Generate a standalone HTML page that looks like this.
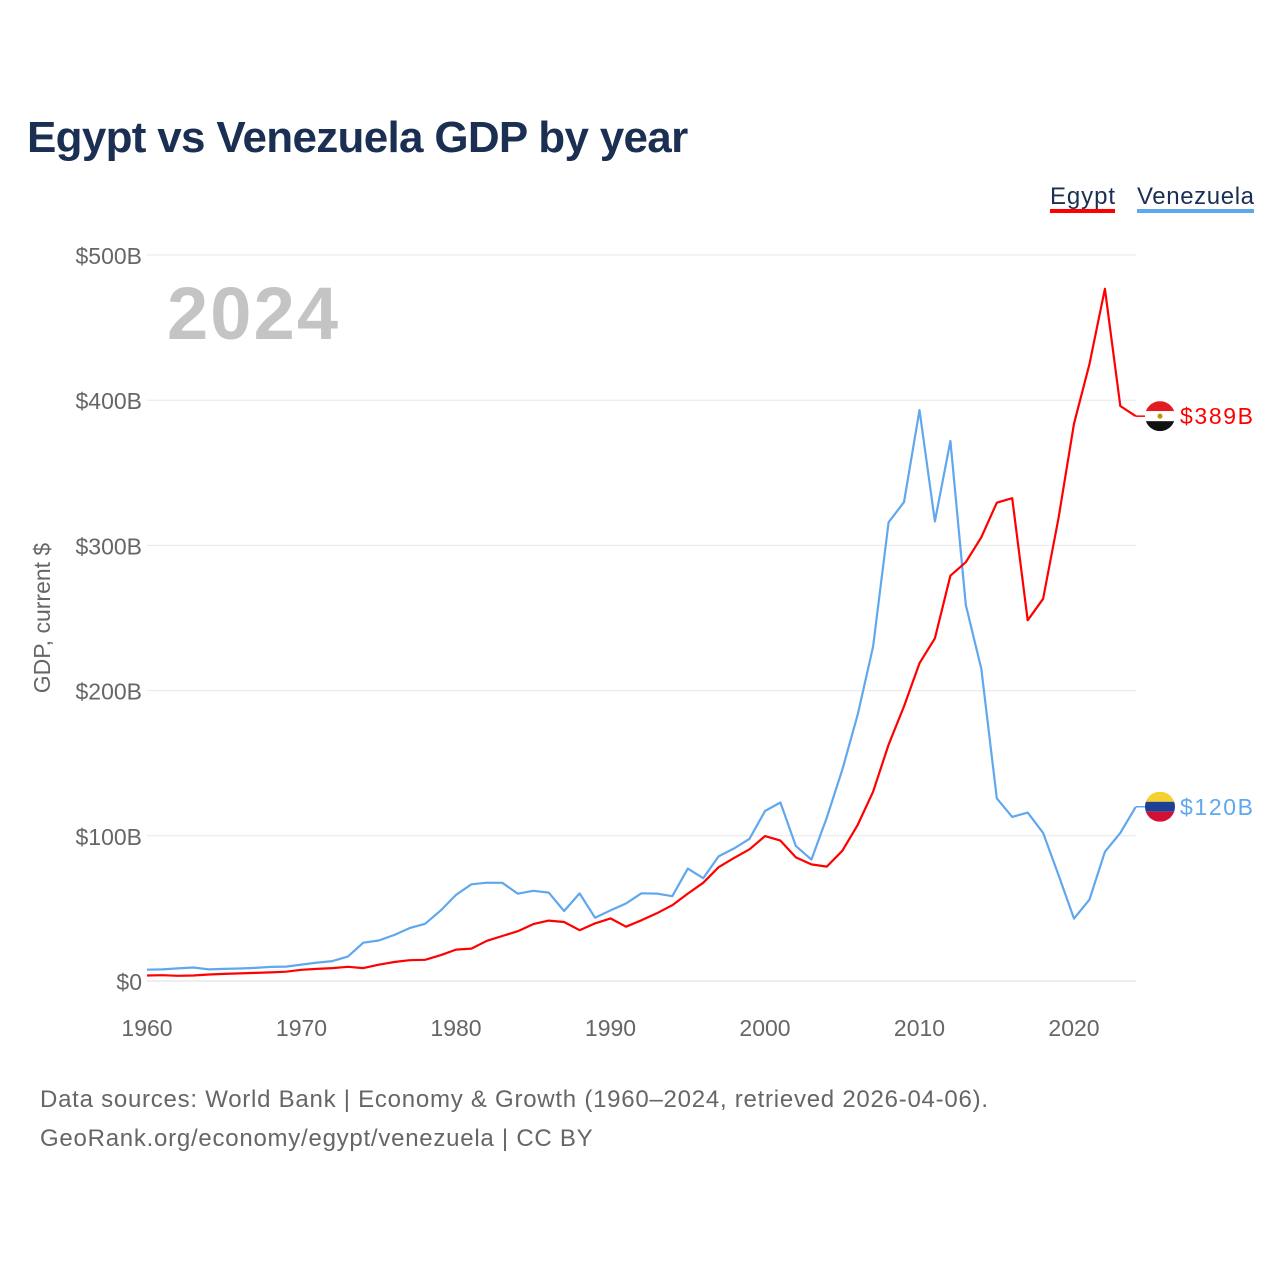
<!DOCTYPE html>
<html><head><meta charset="utf-8">
<style>
html,body{margin:0;padding:0;background:#fff;}
body{width:1280px;height:1280px;position:relative;overflow:hidden;font-family:"Liberation Sans",sans-serif;}
#title{position:absolute;left:27px;top:113px;font-size:44px;font-weight:bold;color:#1b2f52;margin:0;letter-spacing:-0.7px;}
.src{position:absolute;left:40px;font-size:24px;color:#666;letter-spacing:0.75px;}
</style></head><body>
<h1 id="title">Egypt vs Venezuela GDP by year</h1>
<svg id="chart" width="1280" height="1280" style="position:absolute;left:0;top:0" xmlns="http://www.w3.org/2000/svg"></svg>
<div class="src" style="top:1086px">Data sources: World Bank | Economy &amp; Growth (1960–2024, retrieved 2026-04-06).</div>
<div class="src" style="top:1125px">GeoRank.org/economy/egypt/venezuela | CC BY</div>
<script>
const years = [];
for (let y = 1960; y <= 2024; y++) years.push(y);
const egypt = [3.8,4.0,3.6,3.8,4.5,4.9,5.2,5.6,5.9,6.4,7.7,8.3,8.9,9.8,8.9,11.2,13.1,14.3,14.6,17.8,21.6,22.3,27.7,31.0,34.3,39.2,41.6,40.6,35.0,39.7,43.1,37.4,41.8,46.6,52.2,60.2,67.6,78.4,84.8,90.7,99.8,96.7,85.1,80.3,78.8,89.7,107.5,130.4,162.8,189.1,218.9,236.0,279.1,288.4,305.6,329.4,332.5,248.4,263.2,318.7,383.8,424.7,476.7,396.0,389.0];
const venezuela = [7.8,8.0,8.7,9.3,8.0,8.3,8.6,9.0,9.7,9.9,11.3,12.7,13.7,16.8,26.4,27.9,31.7,36.4,39.4,48.5,59.3,66.6,67.7,67.6,60.1,62.1,60.9,48.2,60.3,43.6,48.6,53.4,60.4,60.2,58.4,77.4,70.8,85.8,91.3,97.9,117.1,122.9,92.9,83.6,112.5,145.5,183.5,230.4,315.9,329.8,393.2,316.5,372.0,259.0,215.0,125.8,113.0,116.0,102.0,73.0,43.0,56.0,89.0,102.0,120.0];
const yTicks = [0,100,200,300,400,500];
const yTickLabels = ["$0","$100B","$200B","$300B","$400B","$500B"];
const xTicks = [1960,1970,1980,1990,2000,2010,2020];

const NS = "http://www.w3.org/2000/svg";
const svg = document.getElementById('chart');
const X = y => 147 + (y - 1960) * (927 / 60);
const Y = v => 981 - v * 1.452;
function mk(tag, attrs, parent) {
  const e = document.createElementNS(NS, tag);
  for (const k in attrs) e.setAttribute(k, attrs[k]);
  (parent || svg).appendChild(e);
  return e;
}
yTicks.forEach((t, i) => {
  const g = mk('line', {x1: 147, x2: 1136, y1: Y(t), y2: Y(t), stroke: t === 0 ? '#ddd' : '#e8e8e8', 'stroke-width': 1});
  
  
  const tx = mk('text', {x: 142, y: Y(t) + 9, 'text-anchor': 'end', 'font-size': 23, fill: '#666', 'font-family': 'Liberation Sans, sans-serif'});
  tx.textContent = yTickLabels[i];
  
  
});
xTicks.forEach(t => {
  const tx = mk('text', {x: X(t), y: 1036, 'text-anchor': 'middle', 'font-size': 23, fill: '#666', 'font-family': 'Liberation Sans, sans-serif'});
  tx.textContent = t;
  
  
});
const yt = mk('text', {x: 0, y: 0, transform: 'translate(50,618) rotate(-90)', 'text-anchor': 'middle', 'font-size': 23, fill: '#666', 'font-family': 'Liberation Sans, sans-serif'});
yt.textContent = 'GDP, current $';


const yr = mk('text', {x: 167, y: 339, 'font-size': 74, 'font-weight': 'bold', fill: '#c4c4c4', 'font-family': 'Liberation Sans, sans-serif', textLength: 171});
yr.textContent = '2024';



function line(vals, color, name) {
  const d = vals.map((v, i) => (i ? 'L' : 'M') + X(years[i]).toFixed(1) + ' ' + Y(v).toFixed(1)).join(' ');
  const p = mk('path', {d: d, fill: 'none', stroke: color, 'stroke-width': 2.2, 'stroke-linejoin': 'round'});
  
  
  const last = vals[vals.length - 1];
  const ly = Y(last);
  mk('line', {x1: 1136, x2: 1146, y1: ly, y2: ly, stroke: color, 'stroke-width': 1.5});
  return ly;
}
const vy = line(venezuela, '#5fa8ee', 'venezuela-line');
const ey = line(egypt, '#ff0000', 'egypt-line');

function flag(cy, colors, name) {
  const g = mk('g', {});
  
  
  const cp = mk('clipPath', {id: name + '-clip'}, g);
  mk('circle', {cx: 1160, cy: cy, r: 15}, cp);
  colors.forEach((c, i) => mk('rect', {x: 1145, y: cy - 15 + i * 10, width: 30, height: 10, fill: c, 'clip-path': 'url(#' + name + '-clip)'}, g));
  return g;
}
flag(ey, ['#e31b23', '#ffffff', '#111111'], 'egypt-flag');
mk('circle', {cx: 1160, cy: ey, r: 2.5, fill: '#c09300'});
flag(vy, ['#f6d12e', '#1f3f94', '#d21034'], 'venezuela-flag');
const el = mk('text', {x: 1180, y: ey + 8, 'font-size': 23, fill: '#ff0000', 'font-family': 'Liberation Sans, sans-serif', textLength: 73});
el.textContent = '$' + Math.round(egypt[egypt.length - 1]) + 'B';


const vl = mk('text', {x: 1180, y: vy + 8, 'font-size': 23, fill: '#5fa8ee', 'font-family': 'Liberation Sans, sans-serif', textLength: 73});
vl.textContent = '$' + Math.round(venezuela[venezuela.length - 1]) + 'B';



[['Egypt', 1050, 1115, '#ff0000'], ['Venezuela', 1137, 1254, '#5fa8ee']].forEach(([n, x1, x2, c]) => {
  const t = mk('text', {x: x1, y: 204, 'font-size': 24, fill: '#1b2f52', 'font-family': 'Liberation Sans, sans-serif', textLength: x2 - x1});
  t.textContent = n;
  
  
  mk('rect', {x: x1, y: 209, width: x2 - x1, height: 4, fill: c});
});
</script>
</body></html>
